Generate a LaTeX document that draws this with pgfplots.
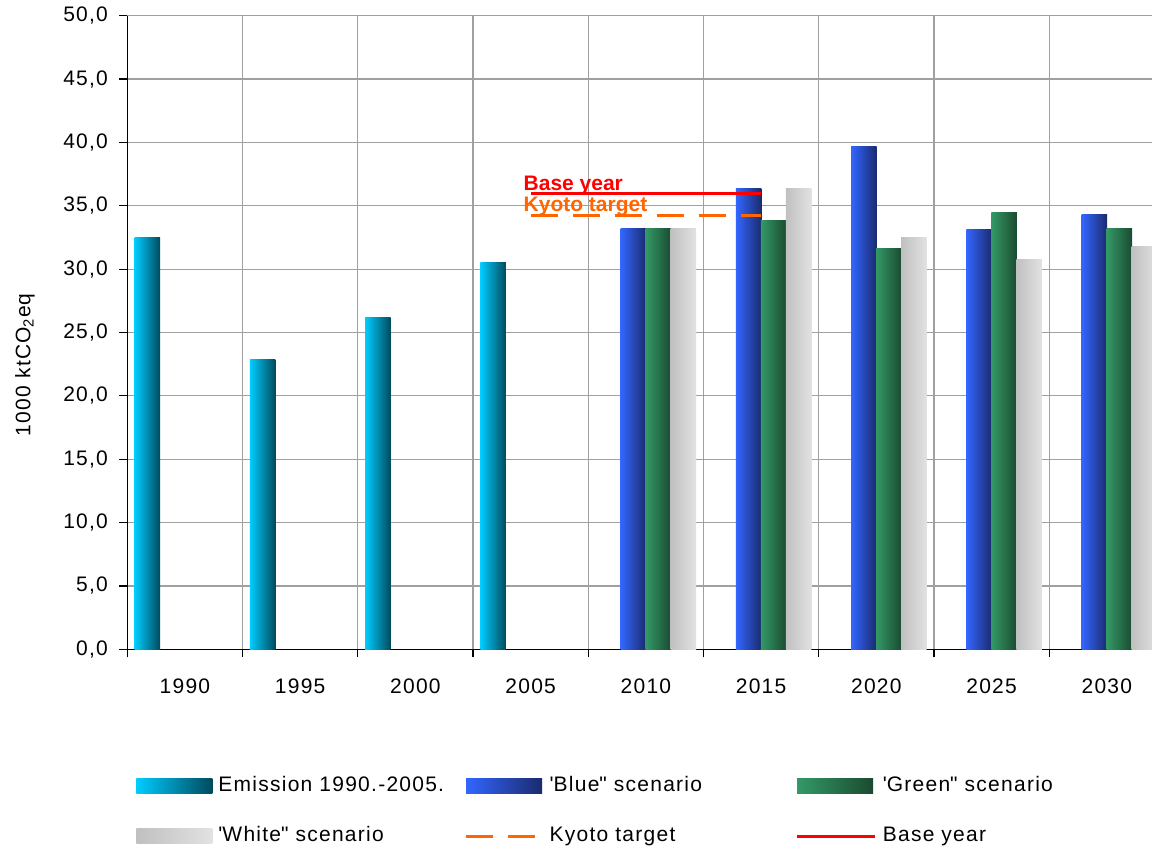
\documentclass[border=0pt]{standalone}
\usepackage{fontspec}
\setmainfont{Liberation Sans}[LetterSpace=6]
\newfontfamily\plainfont{Liberation Sans}
\usepackage{pgfplots}
\pgfplotsset{compat=1.18}
\newcommand\fs{\fontsize{10.5}{12.6}\selectfont}
\definecolor{emisL}{HTML}{00CCFF}
\definecolor{emisR}{HTML}{004A5C}
\definecolor{blueL}{HTML}{3366FF}
\definecolor{blueR}{HTML}{1A2A6E}
\definecolor{greenL}{HTML}{339966}
\definecolor{greenR}{HTML}{1A4A30}
\definecolor{whiteL}{HTML}{C0C0C0}
\definecolor{whiteR}{HTML}{E2E2E2}
\definecolor{kyoto}{HTML}{FF6600}
\definecolor{gridc}{HTML}{A0A0A0}
\tikzset{
  emis/.style={left color=emisL, right color=emisR, draw=none},
  bluesc/.style={left color=blueL, right color=blueR, draw=none},
  greensc/.style={left color=greenL, right color=greenR, draw=none},
  whitesc/.style={left color=whiteL, right color=whiteR, draw=none},
}
\pgfplotsset{
  E/.style={ybar, bar shift=-18.75pt, emis},
  B/.style={ybar, bar shift=-6.25pt, bluesc},
  G/.style={ybar, bar shift=6.25pt, greensc},
  W/.style={ybar, bar shift=18.75pt, whitesc},
}
\begin{document}
\begin{tikzpicture}
\useasboundingbox (0,0) rectangle (576pt,424pt);
\begin{axis}[
  at={(63.65pt,99.35pt)}, anchor=south west,
  scale only axis, width=518.6pt, height=316.8pt,
  xmin=-0.5, xmax=8.5, ymin=0, ymax=50,
  axis x line*=bottom, axis y line*=left,
  axis line style={-, black, line width=0.7pt},
  xtick={0,1,2,3,4,5,6,7,8},
  xticklabels={1990,1995,2000,2005,2010,2015,2020,2025,2030},
  major x tick style={draw=none},
  minor xtick={-0.5,0.5,1.5,2.5,3.5,4.5,5.5,6.5,7.5,8.5},
  xminorgrids=true, ymajorgrids=true, xmajorgrids=false,
  ytick={0,5,...,50},
  tick align=outside, major tick length=4pt, minor tick length=4pt,
  tick style={black, line width=0.6pt},
  grid style={gridc, line width=0.6pt},
  minor grid style={gridc, line width=0.6pt},
  tick label style={font=\fs},
  xticklabel style={yshift=-7pt},
  yticklabel style={xshift=-2.15pt, /pgf/number format/.cd, fixed, fixed zerofill, precision=1, use comma, assume math mode=true},
  ylabel={1000 ktCO\textsubscript{2}eq},
  every axis y label/.style={at={(axis description cs:-0.0986,0.449)}, rotate=90, anchor=center, font=\fs},
  bar width=12.75pt,
  legend columns=3,
  legend cell align=left,
  legend style={at={(axis description cs:0.0084,-0.199)}, anchor=north west, draw=none, fill=none,
    inner sep=0pt, font=\fs, row sep=14.5pt,
    nodes={text width=123pt, inner xsep=0pt, inner ysep=0pt, text height=8pt, text depth=2.5pt, align=left},
    /tikz/every odd column/.append style={column sep=3pt}},
]
% Emission 1990.-2005.
\addplot[E, legend image code/.code={\path[emis] (0pt,-3.75pt) rectangle (38pt,3.75pt);}] coordinates {(0,32.5)};
\addlegendentry{Emission 1990.-2005.}
\addplot[E, forget plot] coordinates {(1,22.9)};
\addplot[E, forget plot] coordinates {(2,26.2)};
\addplot[E, forget plot] coordinates {(3,30.5)};
% Blue scenario
\addplot[B, legend image code/.code={\path[bluesc] (0pt,-3.75pt) rectangle (38pt,3.75pt);}] coordinates {(4,33.2)};
\addlegendentry{\textquotesingle Blue\textquotedbl\ scenario}
\addplot[B, forget plot] coordinates {(5,36.4)};
\addplot[B, forget plot] coordinates {(6,39.7)};
\addplot[B, forget plot] coordinates {(7,33.1)};
\addplot[B, forget plot] coordinates {(8,34.3)};
% Green scenario
\addplot[G, legend image code/.code={\path[greensc] (0pt,-3.75pt) rectangle (38pt,3.75pt);}] coordinates {(4,33.2)};
\addlegendentry{\textquotesingle Green\textquotedbl\ scenario}
\addplot[G, forget plot] coordinates {(5,33.8)};
\addplot[G, forget plot] coordinates {(6,31.6)};
\addplot[G, forget plot] coordinates {(7,34.5)};
\addplot[G, forget plot] coordinates {(8,33.2)};
% White scenario
\addplot[W, legend image code/.code={\path[whitesc] (0pt,-3.75pt) rectangle (38pt,3.75pt);}] coordinates {(4,33.2)};
\addlegendentry{\textquotesingle White\textquotedbl\ scenario}
\addplot[W, forget plot] coordinates {(5,36.4)};
\addplot[W, forget plot] coordinates {(6,32.5)};
\addplot[W, forget plot] coordinates {(7,30.8)};
\addplot[W, forget plot] coordinates {(8,31.8)};
% Kyoto target
\addplot[kyoto, line width=1.6pt, dash pattern=on 13.5pt off 7.5pt, mark=none,
  legend image code/.code={\draw[kyoto, line width=1.6pt, dash pattern=on 13.5pt off 7.5pt] (0pt,0pt) -- (38pt,0pt);}]
  coordinates {(3,34.25) (5,34.25)};
\addlegendentry{Kyoto target}
% Base year
\addplot[red, line width=1.6pt, mark=none,
  legend image code/.code={\draw[red, line width=1.6pt] (0pt,0pt) -- (39pt,0pt);}]
  coordinates {(3,36.0) (5,36.0)};
\addlegendentry{Base year}
\node[anchor=base west, text=red, font=\plainfont\fs\bfseries, inner sep=0pt, yshift=1.5pt] at (axis cs:2.936,36.0) {Base year};
\node[anchor=base west, text=kyoto, font=\plainfont\fs\bfseries, inner sep=0pt, yshift=1.8pt] at (axis cs:2.936,34.25) {Kyoto target};
\end{axis}
\end{tikzpicture}
\end{document}
